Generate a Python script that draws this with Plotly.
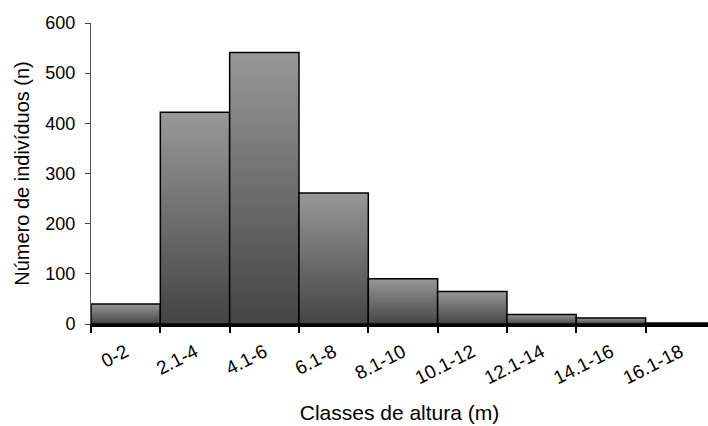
import plotly.graph_objects as go

classes = ["0-2", "2.1-4", "4.1-6", "6.1-8", "8.1-10", "10.1-12", "12.1-14", "14.1-16", "16.1-18"]
counts = [40, 422, 541, 261, 90, 65, 19, 12, 2]

FONT = "Liberation Sans, Arial, sans-serif"

fig = go.Figure()
for i, v in enumerate(counts):
    xs = [i - 0.5, i - 0.5, i + 0.5, i + 0.5, i - 0.5]
    ys = [0, v, v, 0, 0]
    fig.add_trace(go.Scatter(
        x=xs, y=ys, mode="lines", fill="toself",
        line=dict(color="black", width=1.5),
        fillgradient=dict(type="vertical",
                          colorscale=[[0, "#444444"], [1, "#989898"]]),
        hoverinfo="skip", showlegend=False,
    ))

fig.update_layout(
    width=708, height=426,
    margin=dict(l=91, r=0, t=23, b=102),
    plot_bgcolor="white", paper_bgcolor="white",
    font=dict(family=FONT, color="black"),
    xaxis=dict(
        range=[-0.5, 8.4], tickmode="array",
        tickvals=list(range(len(classes))), ticktext=classes,
        ticks="", tickangle=-27, ticklabelstandoff=7,
        tickfont=dict(size=19),
        showline=True, linecolor="black", linewidth=2.5,
        showgrid=False, zeroline=False,
        minor=dict(ticks="outside", tickmode="linear", tick0=-0.5, dtick=1,
                   ticklen=6, tickwidth=1.5, tickcolor="black", showgrid=False),
        title=dict(text="Classes de altura (m)", font=dict(size=21), standoff=18),
    ),
    yaxis=dict(
        range=[0, 600], tickvals=[0, 100, 200, 300, 400, 500, 600],
        ticks="outside", ticklen=5, tickcolor="#444", tickwidth=1,
        tickfont=dict(size=18), ticklabelstandoff=6,
        showline=True, linecolor="#555", linewidth=1,
        showgrid=False, zeroline=False,
        title=dict(text="Número de indivíduos (n)", font=dict(size=20), standoff=10),
    ),
)

fig.write_html("out.html")
